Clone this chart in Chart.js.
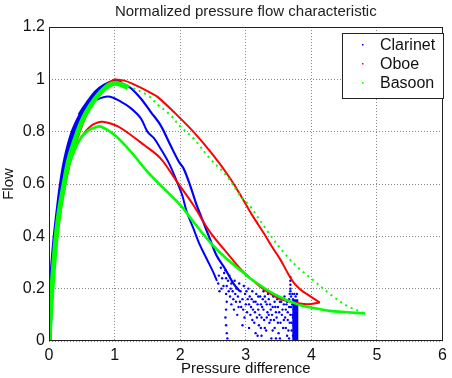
<!DOCTYPE html>
<html>
<head>
<meta charset="utf-8">
<script src="https://cdn.jsdelivr.net/npm/chart.js@4.4.1/dist/chart.umd.min.js"></script>
<style>
  html, body { margin: 0; padding: 0; background: #fff; }
  #wrap { width: 452px; height: 378px; }
</style>
</head>
<body>
<div id="wrap"><canvas id="c" width="452" height="378"></canvas></div>
<script>
// ---------------- data ----------------
const chartTitle = 'Normalized pressure flow characteristic';
const xTitle = 'Pressure difference';
const yTitle = 'Flow';
const seriesNames = ['Clarinet', 'Oboe', 'Basoon'];
const seriesColors = ['#0000ff', '#ff0000', '#00ff00'];
const xTickValues = [0, 1, 2, 3, 4, 5, 6];
const yTickValues = [0, 0.2, 0.4, 0.6, 0.8, 1, 1.2];
const yTickLabels = ['0', '0.2', '0.4', '0.6', '0.8', '1', '1.2'];

// Clarinet (blue)
const clarinetRise = [[0,0],[0.015,0.1],[0.035,0.2],[0.06,0.3],[0.095,0.4],[0.14,0.5],[0.19,0.6],[0.26,0.7],[0.37,0.8],[0.5,0.87],[0.57,0.9],[0.72,0.95],[0.85,0.975],[1.0,0.99],[1.1,0.985]];
const clarinetOuter = [[1.0,0.99],[1.045,0.99],[1.15,0.98],[1.25,0.966],[1.4,0.927],[1.55,0.876],[1.7,0.825],[1.85,0.749],[1.98,0.685],[2.05,0.66],[2.15,0.596],[2.25,0.52],[2.35,0.456],[2.45,0.392],[2.55,0.329],[2.68,0.278],[2.81,0.22],[2.91,0.19]];
const clarinetInner = [[0.45,0.865],[0.55,0.9],[0.69,0.918],[0.9,0.934],[1.1,0.914],[1.25,0.889],[1.4,0.851],[1.5,0.80],[1.6,0.775],[1.7,0.736],[1.83,0.679],[1.95,0.609],[2.03,0.558],[2.1,0.494],[2.2,0.431],[2.3,0.367],[2.4,0.316],[2.5,0.265],[2.56,0.23]];
const clarinetCloud = [
  [2.69,0.27],[2.70,0.24],[2.71,0.21],[2.70,0.18],[2.71,0.15],[2.70,0.12],[2.69,0.09],[2.70,0.06],[2.71,0.03],[2.72,0.01],
  [2.58,0.22],[2.60,0.19],[2.62,0.28],[2.64,0.24],[2.66,0.21],[2.59,0.25],[2.63,0.20],[2.67,0.26],[2.73,0.23],[2.74,0.19],
  [2.75,0.25],[2.78,0.22],[2.80,0.19],[2.76,0.17],[2.83,0.23],[2.86,0.20],[2.88,0.17],[2.85,0.15],[2.90,0.22],[2.92,0.19],
  [2.95,0.16],[2.93,0.13],[2.97,0.21],[2.99,0.18],[3.00,0.14],[3.02,0.11],[2.98,0.09],[2.82,0.12],[2.87,0.10],[2.95,0.06],
  [3.05,0.05],[3.15,0.03],[2.78,0.14],[2.84,0.18],[2.91,0.15],[2.96,0.12],[3.03,0.16],[2.77,0.20],[2.81,0.16],[2.89,0.13],
  [3.04,0.20],[3.06,0.17],[3.08,0.13],[3.10,0.19],[3.12,0.15],[3.10,0.08],[3.14,0.11],[3.16,0.18],[3.18,0.14],[3.20,0.06],
  [3.21,0.10],[3.22,0.17],[3.24,0.02],[3.25,0.13],[3.27,0.19],[3.28,0.08],[3.30,0.15],[3.31,0.04],[3.33,0.11],[3.34,0.18],
  [3.36,0.07],[3.37,0.14],[3.39,0.01],[3.40,0.10],[3.42,0.17],[3.07,0.10],[3.13,0.07],[3.19,0.12],[3.26,0.16],[3.32,0.09],
  [3.01,0.19],[3.05,0.14],[3.09,0.16],[3.11,0.12],[3.15,0.15],[3.17,0.09],[3.19,0.17],[3.23,0.14],[3.24,0.09],[3.27,0.12],
  [3.29,0.17],[3.29,0.05],[3.32,0.14],[3.35,0.16],[3.35,0.10],[3.38,0.08],[3.41,0.13],[3.41,0.04],[3.23,0.05],[3.18,0.02],
  [3.44,0.05],[3.45,0.13],[3.47,0.09],[3.48,0.16],[3.50,0.03],[3.51,0.11],[3.53,0.07],[3.54,0.15],[3.56,0.12],[3.57,0.05],
  [3.59,0.17],[3.60,0.09],[3.62,0.14],[3.63,0.02],[3.64,0.11],[3.66,0.16],[3.67,0.07],[3.68,0.20],[3.68,0.23],[3.69,0.13],
  [3.70,0.04],[3.71,0.10],[3.72,0.16],[3.73,0.06],[3.46,0.01],[3.55,0.00],[3.38,0.12],[3.43,0.08],[3.58,0.14],[3.65,0.04],
  [3.44,0.15],[3.46,0.11],[3.49,0.13],[3.49,0.07],[3.52,0.15],[3.52,0.01],[3.55,0.10],[3.57,0.16],[3.58,0.08],[3.61,0.12],
  [3.61,0.05],[3.63,0.15],[3.64,0.08],[3.66,0.13],[3.66,0.01],[3.68,0.10],[3.69,0.17],[3.70,0.07],[3.71,0.14],[3.72,0.02],
  [3.68,0.215],[3.68,0.19],[3.68,0.245],[3.67,0.18],[3.74,0.18],[3.76,0.17],[3.78,0.18],[3.73,0.12],[3.72,0.09],[3.71,0.18]
];
const clarinetColumn = [[3.755,0],[3.755,0.16]];

// Oboe (red)
const oboeRise = [[0,0],[0.025,0.1],[0.05,0.2],[0.085,0.3],[0.125,0.4],[0.18,0.5],[0.25,0.6],[0.34,0.7],[0.47,0.8],[0.6,0.88],[0.75,0.94],[0.9,0.985],[1.0,1.0]];
const oboeUpper = [[1.0,1.0],[1.15,0.995],[1.3,0.98],[1.45,0.962],[1.55,0.948],[1.65,0.934],[1.9,0.876],[2.2,0.80],[2.5,0.711],[2.76,0.622],[2.96,0.54],[3.1,0.48],[3.28,0.41],[3.4,0.36],[3.53,0.31],[3.65,0.255],[3.74,0.22],[3.84,0.195],[3.94,0.178],[4.05,0.16],[4.13,0.147]];
const oboeInner = [[0,0],[0.03,0.12],[0.07,0.26],[0.12,0.4],[0.17,0.52],[0.24,0.62],[0.32,0.69],[0.47,0.77],[0.63,0.82],[0.8,0.838],[0.95,0.83],[1.1,0.813],[1.45,0.749],[1.7,0.698],[1.95,0.609],[2.2,0.52],[2.45,0.418],[2.7,0.341],[2.96,0.265],[3.23,0.206],[3.48,0.166],[3.68,0.15],[3.94,0.14],[4.13,0.147]];

// Basoon (green)
const basoonRise = [[0,0],[0.02,0.1],[0.045,0.2],[0.075,0.3],[0.11,0.4],[0.16,0.5],[0.23,0.6],[0.31,0.7],[0.44,0.8],[0.53,0.855],[0.62,0.895],[0.75,0.94],[0.9,0.975],[1.02,0.985],[1.2,0.97]];
const basoonUpper = [[1.2,0.975],[1.5,0.94],[1.67,0.9],[1.85,0.864],[2.0,0.82],[2.2,0.775],[2.45,0.698],[2.7,0.634],[2.91,0.558],[3.08,0.51],[3.33,0.42],[3.59,0.335],[3.8,0.28],[4.04,0.23],[4.28,0.18],[4.54,0.135],[4.82,0.105]];
const basoonInner = [[0,0],[0.03,0.12],[0.07,0.26],[0.12,0.4],[0.18,0.52],[0.24,0.6],[0.33,0.69],[0.47,0.77],[0.6,0.805],[0.72,0.818],[0.8,0.819],[1.0,0.787],[1.25,0.723],[1.5,0.647],[1.75,0.583],[2.0,0.52],[2.2,0.456],[2.45,0.379],[2.7,0.316],[2.96,0.262],[3.08,0.237],[3.44,0.178],[3.79,0.14],[4.04,0.126],[4.28,0.115],[4.54,0.11],[4.82,0.105]];

// ---------------- chart ----------------
const toXY = pts => pts.map(p => ({x: p[0], y: p[1]}));
const BLUE = seriesColors[0], RED = seriesColors[1], GREEN = seriesColors[2];

function lineDs(label, pts, color, width, order, extra) {
  return Object.assign({
    label, data: toXY(pts), showLine: true, borderColor: color, backgroundColor: color,
    borderWidth: width, pointRadius: 0, tension: 0.35, order, fill: false
  }, extra || {});
}

const datasets = [
  // Clarinet
  {label: seriesNames[0], data: toXY(clarinetCloud), showLine: false, pointRadius: 1.2, pointBorderWidth: 0,
   backgroundColor: BLUE, borderColor: BLUE, order: 3},
  lineDs('_cr', clarinetRise, BLUE, 5, 3),
  lineDs('_co', clarinetOuter, BLUE, 2.2, 3),
  lineDs('_ci', clarinetInner, BLUE, 2, 3),
  lineDs('_cc', clarinetColumn, BLUE, 6, 3, {tension: 0}),
  // Oboe
  lineDs(seriesNames[1], oboeUpper, RED, 2, 2),
  lineDs('_or', oboeRise, RED, 2, 2),
  lineDs('_oi', oboeInner, RED, 2, 2),
  // Basoon
  lineDs(seriesNames[2], basoonInner, GREEN, 2.6, 1),
  lineDs('_br', basoonRise, GREEN, 5, 1),
  lineDs('_bu', basoonUpper, GREEN, 2, 1, {borderDash: [2, 4]})
];

const framePlugin = {
  id: 'frame',
  afterDraw(chart) {
    const {ctx, chartArea: a} = chart;
    ctx.save();
    ctx.strokeStyle = '#222';
    ctx.lineWidth = 1;
    ctx.setLineDash([]);
    ctx.strokeRect(Math.round(a.left) + 0.5, Math.round(a.top) + 0.5,
                   Math.round(a.right - a.left) - 1, Math.round(a.bottom - a.top) - 1);
    ctx.fillStyle = '#222';
    ctx.font = '15px "Liberation Sans", Arial, sans-serif';
    ctx.textAlign = 'center';
    ctx.textBaseline = 'middle';
    ctx.fillText(chartTitle, (a.left + a.right) / 2, 12);
    const lx = 342, ly = 33, lw = 101, lh = 65;
    ctx.fillStyle = '#fff';
    ctx.fillRect(lx, ly, lw, lh);
    ctx.strokeStyle = '#222';
    ctx.strokeRect(lx + 0.5, ly + 0.5, lw, lh);
    ctx.font = '16px "Liberation Sans", Arial, sans-serif';
    ctx.textAlign = 'left';
    const rows = [45, 64, 83];
    seriesNames.forEach((name, i) => {
      ctx.fillStyle = seriesColors[i];
      ctx.fillRect(362, rows[i] - 1, 1.5, 1.5);
      ctx.fillStyle = '#111';
      ctx.fillText(name, 380, rows[i] + 1);
    });
    ctx.restore();
  }
};

const fontFam = '"Liberation Sans", Arial, sans-serif';

new Chart(document.getElementById('c'), {
  type: 'scatter',
  data: {datasets},
  options: {
    responsive: false,
    animation: false,
    devicePixelRatio: 1,
    layout: {padding: {top: 27, right: 6, left: 0, bottom: 0}},
    plugins: {legend: {display: false}, title: {display: false}, tooltip: {enabled: false}},
    scales: {
      x: {
        type: 'linear', min: 0, max: 6,
        afterBuildTicks: s => { s.ticks = xTickValues.map(v => ({value: v})); },
        afterFit: s => { s.height = 37; },
        ticks: {font: {size: 16, family: fontFam}, color: '#111', padding: 5, maxRotation: 0,
                callback: v => String(v)},
        grid: {color: '#8a8a8a', lineWidth: 1, drawTicks: false},
        border: {display: false, dash: [1, 2]},
        title: {display: true, text: xTitle, font: {size: 15, family: fontFam}, color: '#111', padding: {top: 0, bottom: 0}}
      },
      y: {
        type: 'linear', min: 0, max: 1.2,
        afterBuildTicks: s => { s.ticks = yTickValues.map(v => ({value: v})); },
        afterFit: s => { s.width = 49; },
        ticks: {font: {size: 16, family: fontFam}, color: '#111', padding: 4,
                callback: (v) => yTickLabels[yTickValues.findIndex(t => Math.abs(t - v) < 1e-6)]},
        grid: {color: '#8a8a8a', lineWidth: 1, drawTicks: false},
        border: {display: false, dash: [1, 2]},
        title: {display: true, text: yTitle, font: {size: 15, family: fontFam}, color: '#111', padding: {top: 0, bottom: 0}}
      }
    }
  },
  plugins: [framePlugin]
});
</script>
</body>
</html>
